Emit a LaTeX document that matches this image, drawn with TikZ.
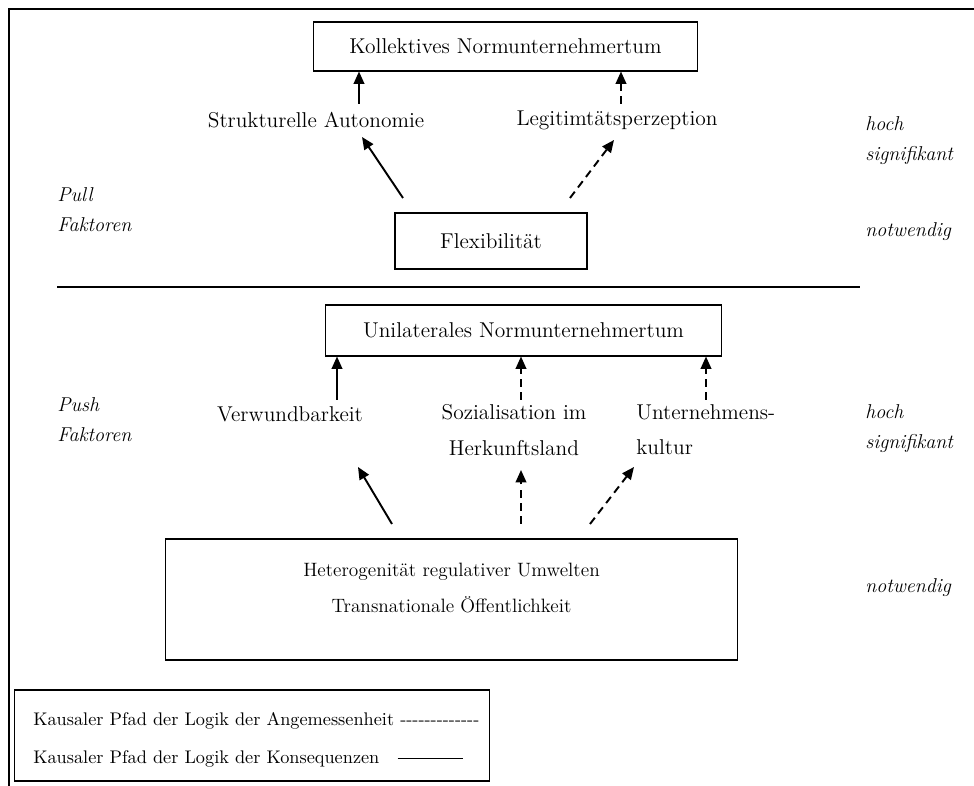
\documentclass[tikz,border=0pt]{standalone}
\usepackage{tikz}
\usetikzlibrary{arrows.meta}
\newcommand{\sideLabel}[3]{%%
  \node[sideStyle] (#1) at (#2) {#3};
}
\newcommand{\dashRun}{-{}-{}-{}-{}-{}-{}-{}-{}-{}-{}-{}-{}-}

\begin{document}
\begin{tikzpicture}[%%
  x=0.02cm,y=-0.02cm,
  frameStyle/.style={-,line width=1.2pt},
  ruleStyle/.style={-,line width=0.9pt},
  boxStyle/.style={draw,line width=0.6pt,inner sep=0pt},
  textStyle/.style={font=\fontsize{12.2}{20}\selectfont,inner sep=0pt,align=center},
  smallStyle/.style={font=\fontsize{11}{21}\selectfont,inner sep=0pt,align=center},
  legendStyle/.style={font=\fontsize{10.4}{12}\selectfont,inner sep=0pt,anchor=west},
  sideStyle/.style={font=\fontsize{11.4}{17}\selectfont\itshape,inner sep=0pt,anchor=west,align=left},
  solidArrowStyle/.style={-{Triangle[length=7pt,width=6pt]},line width=1.1pt},
  dashArrowStyle/.style={solidArrowStyle,dash pattern=on 4.5pt off 3pt}
]
\useasboundingbox (0,0) rectangle (974,786);
%%
%% The frame.
\coordinate (frameLeft) at (9,786);
\coordinate (frameCorner) at (9,9);
\coordinate (frameRight) at (974,9);
\draw[frameStyle] (frameLeft) -- (frameCorner) -- (frameRight);
%%
%% Pull factors.
\node[boxStyle,textStyle,minimum width=7.7cm,minimum height=0.98cm]
  (kollektiv) at (505.5,46.5) {Kollektives Normunternehmertum};
\node[textStyle] (autonomie) at (316,120) {Strukturelle Autonomie};
\node[textStyle] (legitim) at (617,120) {Legitimtätsperzeption};
\node[boxStyle,textStyle,minimum width=3.84cm,minimum height=1.12cm]
  (flex) at (491,241) {Flexibilität};
\coordinate (autonomieTail) at (359,104);
\coordinate (legitimTail) at (621,104);
\draw[solidArrowStyle] (autonomieTail) -- (autonomieTail |- kollektiv.south);
\draw[dashArrowStyle] (legitimTail) -- (legitimTail |- kollektiv.south);
\coordinate (flexLeft) at (403,198);
\coordinate (flexRight) at (570,198);
\coordinate (autonomieHead) at (362,137);
\coordinate (legitimHead) at (614,140);
\draw[solidArrowStyle] (flexLeft) -- (autonomieHead);
\draw[dashArrowStyle] (flexRight) -- (legitimHead);
\sideLabel{pull}{57,210}{Pull\\Faktoren}
\sideLabel{hochPull}{865,141}{hoch\\signifikant}
\sideLabel{notwPull}{865,232}{notwendig}
%%
%% The divider.
\coordinate (dividerStart) at (57,287);
\coordinate (dividerEnd) at (860,287);
\draw[ruleStyle] (dividerStart) -- (dividerEnd);
%%
%% Push factors.
\node[boxStyle,textStyle,minimum width=7.94cm,minimum height=1.02cm]
  (unilateral) at (523.5,330.5) {Unilaterales Normunternehmertum};
\node[textStyle] (verwund) at (290,414) {Verwundbarkeit};
\node[textStyle] (sozial) at (514,430) {Sozialisation im\\Herkunftsland};
\node[textStyle,anchor=west,align=left] (kultur) at (636,430) {Unternehmens-\\kultur};
\node[boxStyle,minimum width=11.46cm,minimum height=2.42cm] (hetero) at (451.5,599.5) {};
\node[smallStyle] (heteroText) at (451.5,588)
  {Heterogenität regulativer Umwelten\\Transnationale Öffentlichkeit};
\coordinate (verwundTail) at (337,400);
\coordinate (sozialTail) at (521,400);
\coordinate (kulturTail) at (706,400);
\draw[solidArrowStyle] (verwundTail) -- (verwundTail |- unilateral.south);
\draw[dashArrowStyle] (sozialTail) -- (sozialTail |- unilateral.south);
\draw[dashArrowStyle] (kulturTail) -- (kulturTail |- unilateral.south);
\coordinate (heteroLeft) at (392,524);
\coordinate (heteroMid) at (521,524);
\coordinate (heteroRight) at (590,524);
\coordinate (verwundHead) at (358,467);
\coordinate (sozialHead) at (521,470);
\coordinate (kulturHead) at (634,467);
\draw[solidArrowStyle] (heteroLeft) -- (verwundHead);
\draw[dashArrowStyle] (heteroMid) -- (sozialHead);
\draw[dashArrowStyle] (heteroRight) -- (kulturHead);
\sideLabel{push}{57,420}{Push\\Faktoren}
\sideLabel{hochPush}{865,429}{hoch\\signifikant}
\sideLabel{notwPush}{865,588}{notwendig}
%%
%% The legend.
\node[boxStyle,minimum width=9.52cm,minimum height=1.82cm] (legend) at (252,735.5) {};
\node[legendStyle] (legendDash) at (33,721)
  {Kausaler Pfad der Logik der Angemessenheit \dashRun};
\node[legendStyle] (legendSolid) at (33,759)
  {Kausaler Pfad der Logik der Konsequenzen\quad\rule[0.6ex]{1.3cm}{0.5pt}};
\end{tikzpicture}
\end{document}
